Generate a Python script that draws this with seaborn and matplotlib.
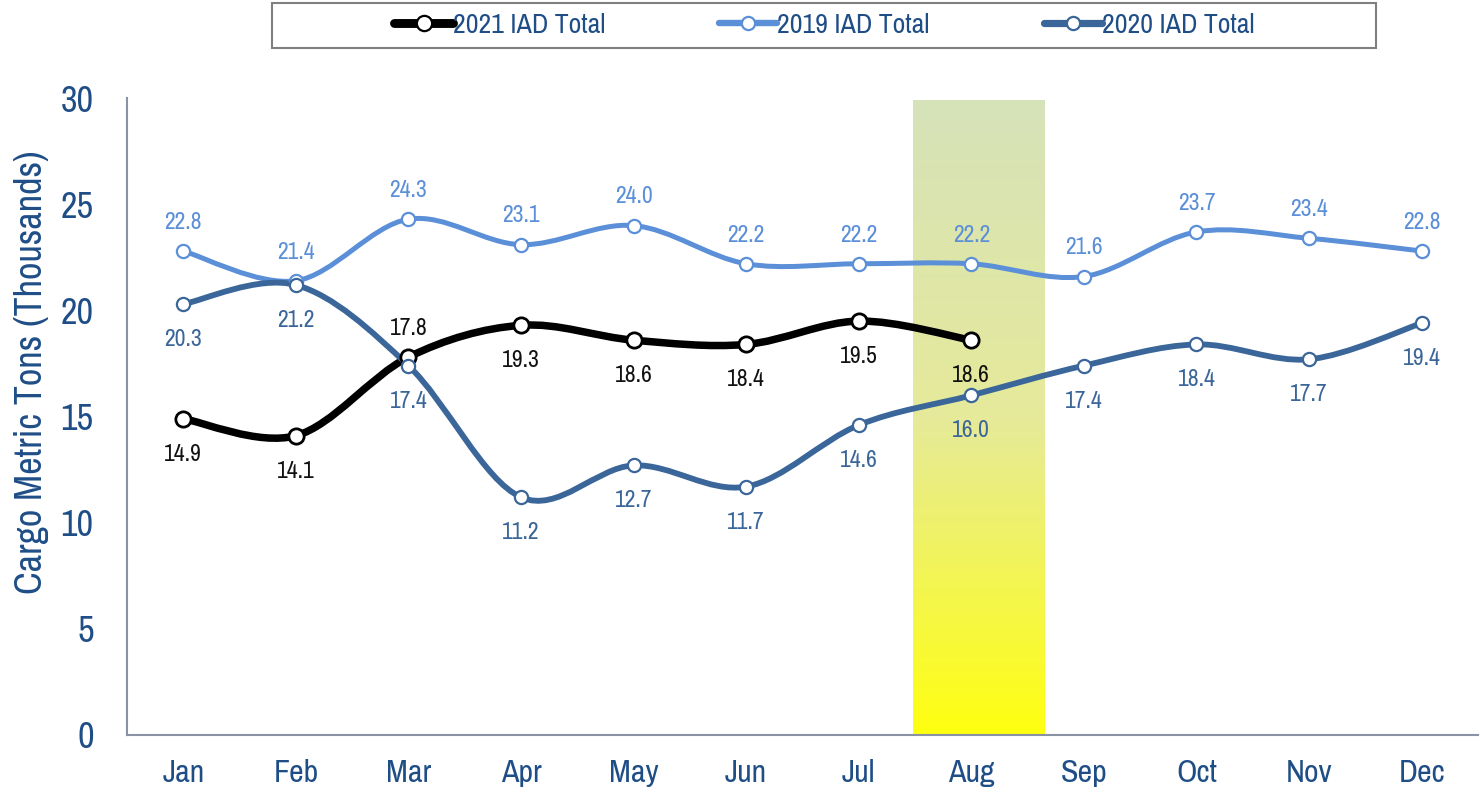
import numpy as np
import pandas as pd
import matplotlib
matplotlib.use("Agg")
import matplotlib.pyplot as plt
import seaborn as sns
from matplotlib.path import Path
from matplotlib.patches import PathPatch, Rectangle
from matplotlib.lines import Line2D
from matplotlib import font_manager

months = ["Jan", "Feb", "Mar", "Apr", "May", "Jun", "Jul", "Aug", "Sep", "Oct", "Nov", "Dec"]
iad_2021 = [14.9, 14.1, 17.8, 19.3, 18.6, 18.4, 19.5, 18.6]
iad_2019 = [22.8, 21.4, 24.3, 23.1, 24.0, 22.2, 22.2, 22.2, 21.6, 23.7, 23.4, 22.8]
iad_2020 = [20.3, 21.2, 17.4, 11.2, 12.7, 11.7, 14.6, 16.0, 17.4, 18.4, 17.7, 19.4]
highlight_month = "Aug"

sns.set_style("white")
# pick a narrow face if one is around
names = sorted({f.name for f in font_manager.fontManager.ttflist})
narrow = [n for n in names if "Narrow" in n or "Condensed" in n]
plt.rcParams["font.family"] = narrow[:1] + ["DejaVu Sans"]
if not narrow:
    plt.rcParams["font.stretch"] = "condensed"

navy = "#1F4E87"
c2019 = "#5B8FD8"
c2020 = "#3A6699"
c2021 = "#000000"
axis_gray = "#8A93A6"

fig = plt.figure(figsize=(14.8, 7.92), dpi=100)
ax = fig.add_axes([0.0858, 0.072, 0.9128, 0.804])


def smooth_path(xs, ys):
    # Excel-like smoothed line: cubic bezier through each point
    pts = np.column_stack([xs, ys]).astype(float)
    n = len(pts)
    verts = [pts[0]]
    codes = [Path.MOVETO]
    for i in range(n - 1):
        p0 = pts[i - 1] if i > 0 else pts[i]
        p1, p2 = pts[i], pts[i + 1]
        p3 = pts[i + 2] if i + 2 < n else pts[i + 1]
        c1 = p1 + (p2 - p0) / 6.0
        c2 = p2 - (p3 - p1) / 6.0
        verts += [c1, c2, p2]
        codes += [Path.CURVE4] * 3
    return Path(verts, codes)


# highlight band with gradient
hx = months.index(highlight_month)
grad = np.linspace(0, 1, 256).reshape(-1, 1)
cmap = matplotlib.colors.LinearSegmentedColormap.from_list("hl", ["#D6E2B9", "#E6EA9A", "#FFFF10"])
ax.imshow(grad, cmap=cmap, aspect="auto", extent=[hx - 0.515, hx + 0.655, 0, 29.9],
          origin="upper", zorder=0)

series = [
    ("2021 IAD Total", iad_2021, c2021, 5.4, 11, c2021),
    ("2019 IAD Total", iad_2019, c2019, 3.6, 9.5, c2019),
    ("2020 IAD Total", iad_2020, c2020, 4.2, 9.5, c2020),
]

handles = []
for name, vals, col, lw, ms, tcol in series:
    xs = np.arange(len(vals))
    ax.add_patch(PathPatch(smooth_path(xs, vals), facecolor="none", edgecolor=col,
                           lw=lw, capstyle="round", joinstyle="round", zorder=3))
    df = pd.DataFrame({"x": xs, "y": vals})
    sns.scatterplot(data=df, x="x", y="y", ax=ax, s=ms ** 2, color="white",
                    edgecolor=col, linewidth=1.6 if col != c2021 else 2.0, zorder=4)
    handles.append(Line2D([0], [0], color=col, lw=lw + 1.0, marker="o", markersize=ms,
                          markerfacecolor="white", markeredgecolor=col, markeredgewidth=1.6))

# data labels
lab_fs = 17
for i, v in enumerate(iad_2019):
    ax.annotate(f"{v:.1f}", (i, v), xytext=(0, 16), textcoords="offset points",
                ha="center", va="baseline", fontsize=lab_fs, color=c2019, zorder=5)
for i, v in enumerate(iad_2020):
    ax.annotate(f"{v:.1f}", (i, v), xytext=(0, -18), textcoords="offset points",
                ha="center", va="top", fontsize=lab_fs, color=c2020, zorder=5)
for i, v in enumerate(iad_2021):
    above = months[i] == "Mar"
    ax.annotate(f"{v:.1f}", (i, v), xytext=(0, 16 if above else -18), textcoords="offset points",
                ha="center", va="baseline" if above else "top", fontsize=lab_fs,
                color="#111111", fontweight="semibold", zorder=5)

ax.set_xlim(-0.5, 11.5)
ax.set_ylim(0, 30)
ax.set_yticks(range(0, 31, 5))
ax.set_yticklabels([str(t) for t in range(0, 31, 5)], fontsize=26, color=navy)
ax.set_xticks(range(12))
ax.set_xticklabels(months, fontsize=23, color=navy, fontweight="bold")
ax.set_xticks(np.arange(-0.5, 12, 1), minor=True)
ax.tick_params(axis="x", which="major", length=0, pad=17)
ax.tick_params(axis="x", which="minor", length=8, width=1.5, color=axis_gray, direction="out")
ax.tick_params(axis="y", length=8, width=1.5, color=axis_gray, direction="out", pad=16)
ax.set_xlabel("")
ax.set_ylabel("Cargo Metric Tons (Thousands)", fontsize=27.5, color=navy)
ax.yaxis.set_label_coords(-0.058, 0.57)

for side in ["top", "right"]:
    ax.spines[side].set_visible(False)
for side in ["left", "bottom"]:
    ax.spines[side].set_color(axis_gray)
    ax.spines[side].set_linewidth(1.5)

# legend box drawn separately so it can be wider than its entries
fig.patches.append(Rectangle((0.184, 0.939), 0.746, 0.057, transform=fig.transFigure,
                             facecolor="white", edgecolor="#7F7F7F", lw=1.5))
leg = fig.legend(handles=handles, labels=[s[0] for s in series], loc="center",
                 bbox_to_anchor=(0.557, 0.968), ncol=3, frameon=False, fontsize=20,
                 handlelength=2.1, handletextpad=0.0, columnspacing=4.1, borderaxespad=0)
for t in leg.get_texts():
    t.set_color(navy)

fig.savefig("out.png", dpi=100)
